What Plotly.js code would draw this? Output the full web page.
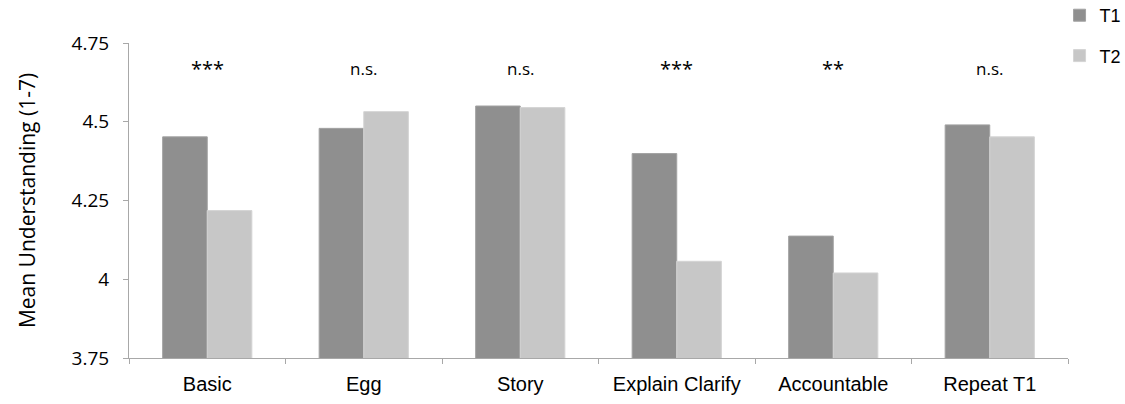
<!DOCTYPE html>
<html>
<head>
<meta charset="utf-8">
<script src="https://cdn.plot.ly/plotly-3.0.1.min.js"></script>
<style>
  html, body { margin: 0; padding: 0; background: #fff; }
  #chart { width: 1125px; height: 404px; }
</style>
</head>
<body>
<div id="chart"></div>
<script>
// Conditions and mean understanding ratings (1-7 scale) at two time points
const conditions = ["Basic", "Egg", "Story", "Explain Clarify", "Accountable", "Repeat T1"];
const t1Means = [4.452, 4.479, 4.550, 4.399, 4.137, 4.490];
const t2Means = [4.218, 4.532, 4.545, 4.057, 4.020, 4.452];
const significance = ["***", "n.s.", "n.s.", "***", "**", "n.s."];
const yTicks = [3.75, 4, 4.25, 4.5, 4.75];

const sansA = "Liberation Sans, Arial, sans-serif";
const sansB = "Open Sans, Noto Sans, sans-serif";

const traces = [
  {
    type: "bar", name: "T1", x: conditions, y: t1Means, legendgroup: "a",
    marker: { color: "#8f8f8f", line: { color: "#a2a2a2", width: 1 } }
  },
  {
    type: "bar", name: "T2", x: conditions, y: t2Means, legendgroup: "b",
    marker: { color: "#c7c7c7", line: { color: "#d4d4d4", width: 1 } }
  }
];

// significance markers above each condition
const annotations = conditions.map((c, i) => ({
  x: c, y: 4.67, xref: "x", yref: "y",
  text: significance[i], showarrow: false,
  font: { family: sansB, size: significance[i] === "n.s." ? 17 : 20, color: "#000" },
  yanchor: "middle"
}));

const layout = {
  width: 1125, height: 404,
  margin: { l: 129, r: 57, t: 43, b: 46, autoexpand: false },
  paper_bgcolor: "#fff", plot_bgcolor: "#fff",
  barmode: "group", bargap: 0.43, bargroupgap: 0,
  showlegend: true,
  legend: {
    x: 0.991, y: 1.146, xanchor: "left", yanchor: "top",
    font: { family: sansA, size: 18, color: "#000" },
    traceorder: "grouped", tracegroupgap: 14, itemwidth: 30,
    bgcolor: "rgba(0,0,0,0)"
  },
  xaxis: {
    type: "category",
    showgrid: false, zeroline: false,
    showline: true, linecolor: "#a8a8a8", linewidth: 1,
    ticks: "outside", tickson: "boundaries", ticklen: 5, tickcolor: "#a8a8a8",
    tickfont: { family: sansA, size: 20, color: "#000" },
    ticklabelstandoff: 8
  },
  yaxis: {
    range: [3.75, 4.75],
    tickvals: yTicks,
    showgrid: false, zeroline: false,
    showline: true, linecolor: "#a8a8a8", linewidth: 1,
    ticks: "outside", ticklen: 5, tickcolor: "#a8a8a8",
    tickfont: { family: sansB, size: 19, color: "#000" },
    ticklabelstandoff: 10,
    title: { text: "Mean Understanding (1-7)", font: { family: sansB, size: 21, color: "#000" }, standoff: 30 }
  },
  annotations: annotations
};

Plotly.newPlot("chart", traces, layout, { displayModeBar: false, staticPlot: true });
</script>
</body>
</html>
